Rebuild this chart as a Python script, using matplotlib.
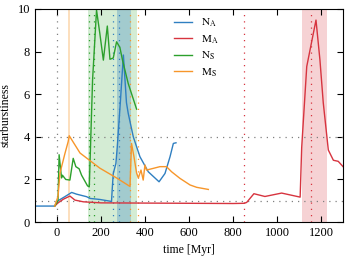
import matplotlib
matplotlib.use("Agg")
import matplotlib.pyplot as plt
import numpy as np

plt.rcParams['font.family'] = ['Liberation Serif', 'DejaVu Serif']
plt.rcParams['mathtext.fontset'] = 'stix'

# N_A
t_na = [-100, -10, 5, 36, 67, 89, 135, 150, 195, 241, 248, 251, 256, 268, 274, 288, 302,
        316, 324, 347, 377, 415, 464, 491, 514, 529, 541]
s_na = [0.75, 0.75, 1.0, 1.19, 1.39, 1.31, 1.19, 1.11, 1.06, 0.98, 0.95, 1.5, 2.28, 2.75,
        3.5, 5.6, 7.84, 5.6, 5.1, 4.0, 3.07, 2.36, 1.89, 2.28, 3.07, 3.69, 3.72]

# M_A
t_ma = [-10, 5, 29, 59, 82, 120, 200, 400, 600, 800, 850, 862, 895, 945, 1021, 1105,
        1112, 1135, 1160, 1177, 1195, 1210, 1233, 1256, 1278, 1300]
s_ma = [0.75, 0.9, 1.07, 1.22, 1.03, 0.95, 0.9, 0.89, 0.88, 0.87, 0.88, 0.92, 1.33, 1.2,
        1.36, 1.17, 3.5, 7.3, 8.6, 9.48, 7.6, 5.6, 3.38, 2.9, 2.85, 2.6]

# N_S
t_ns = [-10, 5, 10, 21, 25, 40, 59, 74, 86, 101, 112, 139, 147, 162, 180, 195, 211, 229,
        241, 256, 271, 286, 298, 324, 362]
s_ns = [0.75, 1.0, 3.16, 2.07, 2.2, 2.0, 1.97, 2.99, 2.6, 2.5, 2.2, 1.7, 1.65, 6.67,
        9.95, 8.85, 7.6, 9.2, 7.64, 7.7, 8.46, 8.2, 7.6, 6.5, 5.3]

# M_S
t_ms = [-10, 5, 14, 36, 51, 56, 105, 195, 271, 332, 339, 350, 362, 370, 382, 392, 400,
        407, 438, 468, 498, 521, 559, 605, 635, 688]
s_ms = [0.75, 1.2, 2.3, 3.2, 3.77, 4.05, 3.24, 2.53, 2.07, 1.67, 3.69, 3.07, 2.3, 2.07,
        2.44, 1.97, 2.68, 2.44, 2.52, 2.6, 2.6, 2.36, 2.05, 1.74, 1.63, 1.53]

c_blue = '#2f7fc1'
c_red = '#d7343f'
c_green = '#2ca02c'
c_orange = '#f7962a'

fig = plt.figure(figsize=(3.49, 2.57), dpi=100)
ax = fig.add_axes([0.1, 0.136, 0.883, 0.829])

# burst windows
ax.axvspan(142, 365, color=c_green, alpha=0.2, lw=0)
ax.axvspan(274, 338, color=c_blue, alpha=0.3, lw=0)
ax.axvspan(52, 58, color=c_orange, alpha=0.3, lw=0)
ax.axvspan(1115, 1225, color=c_red, alpha=0.22, lw=0)

# pericentre markers
dots = (0, (1, 4))
ax.axvline(0, color='gray', ls=dots, lw=0.9)
for t in [147, 168]:
    ax.axvline(t, color=c_green, ls=dots, lw=0.9)
for t in [256, 283]:
    ax.axvline(t, color=c_blue, ls=dots, lw=0.9)
for t in [334, 370]:
    ax.axvline(t, color=c_orange, ls=dots, lw=0.9)
for t in [850, 1155]:
    ax.axvline(t, color=c_red, ls=dots, lw=0.9)
for s in [1, 4]:
    ax.axhline(s, color='gray', ls=dots, lw=0.9)

ax.plot(t_na, s_na, color=c_blue, lw=1.0, label=r'$\mathrm{N_A}$')
ax.plot(t_ma, s_ma, color=c_red, lw=1.0, label=r'$\mathrm{M_A}$')
ax.plot(t_ns, s_ns, color=c_green, lw=1.0, label=r'$\mathrm{N_S}$')
ax.plot(t_ms, s_ms, color=c_orange, lw=1.0, label=r'$\mathrm{M_S}$')

ax.set_xlim(-100, 1300)
ax.set_ylim(0, 10)
ax.set_xticks([0, 200, 400, 600, 800, 1000, 1200])
ax.set_yticks([0, 2, 4, 6, 8, 10])
ax.tick_params(direction='in', top=True, right=True, labelsize=9, length=4)
ax.set_xlabel('time [Myr]', fontsize=8.5)
ax.set_ylabel('starburstiness', fontsize=8.5)

ax.legend(loc='upper left', bbox_to_anchor=(0.42, 1.01), frameon=False, fontsize=8,
          handlelength=1.6, labelspacing=0.35)

fig.savefig('out.png', dpi=100)
